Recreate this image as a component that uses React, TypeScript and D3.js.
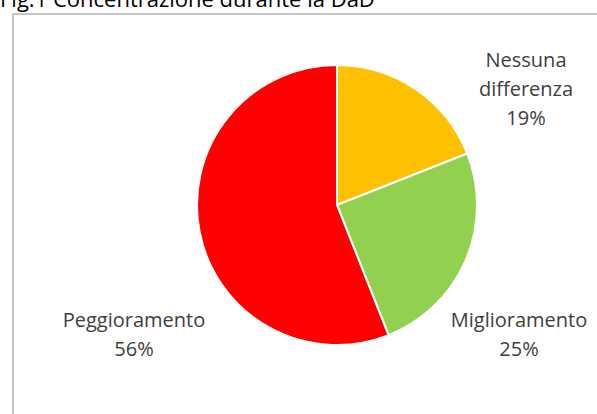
import React from "react";
import * as d3 from "d3";

const categories = ["Nessuna differenza", "Miglioramento", "Peggioramento"];
const values = [19, 25, 56];
const labelLines = [["Nessuna", "differenza", "19%"], ["Miglioramento", "25%"], ["Peggioramento", "56%"]];
const colors = ["#FFC000", "#92D050", "#FF0000"];
const title = "Fig.1 Concentrazione durante la DaD";

const W = 597;
const H = 414;
const cx = 337;
const cy = 205;
const R = 140;
// label centre positions (layout)
const labelPos: [number, number][] = [
  [526, 67],
  [519, 327],
  [134, 327],
];
const lineH = 29;

export default function App() {
  const pie = d3.pie<number>().sort(null).value((d) => d);
  const arcs = pie(values);
  const arc = d3.arc<d3.PieArcDatum<number>>().innerRadius(0).outerRadius(R);
  return (
    <svg width={W} height={H} style={{ position: "absolute", left: 0, top: 0, background: "#fff" }}>
      <rect x={0} y={0} width={W} height={H} fill="#fff" />
      <text x={0} y={7} fontFamily="'Open Sans', sans-serif" fontSize={22} fill="#000">
        {title}
      </text>
      <rect x={13} y={14} width={W} height={H} fill="#fff" stroke="#b3b3b3" strokeWidth={1.5} />
      <g transform={`translate(${cx},${cy})`}>
        {arcs.map((a, i) => (
          <path key={categories[i]} d={arc(a) || ""} fill={colors[i]} stroke="#fff" strokeWidth={2} />
        ))}
      </g>
      {labelLines.map((lines, i) => (
        <text
          key={categories[i]}
          textAnchor="middle"
          fontFamily="'Open Sans', sans-serif"
          fontSize={20}
          fill="#404040"
        >
          {lines.map((l, j) => (
            <tspan key={j} x={labelPos[i][0]} y={labelPos[i][1] + j * lineH}>
              {l}
            </tspan>
          ))}
        </text>
      ))}
    </svg>
  );
}
